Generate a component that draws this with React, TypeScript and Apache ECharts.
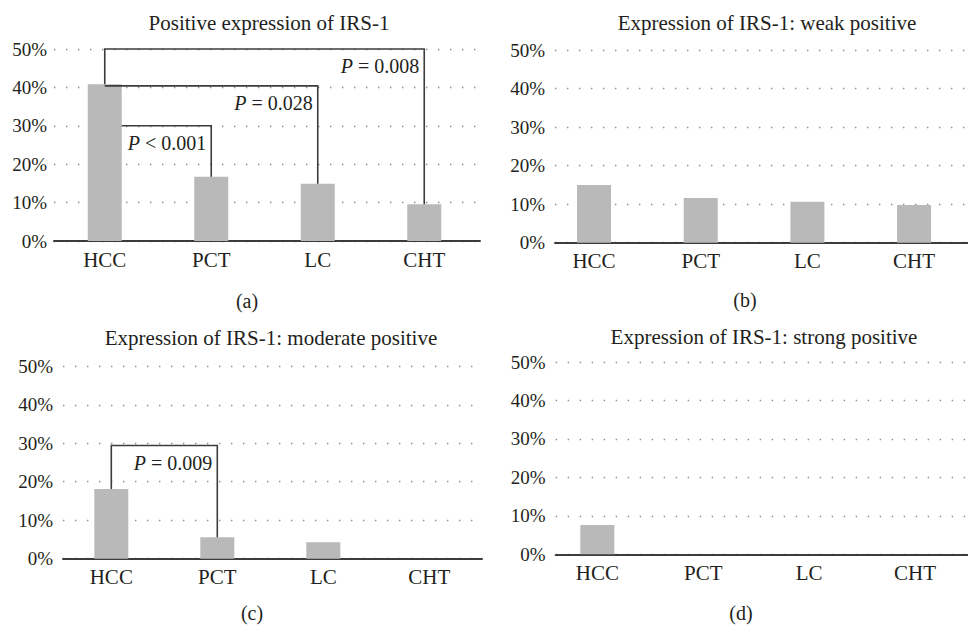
import React, { useEffect, useRef } from "react";
import * as echarts from "echarts";

// ---------- data ----------
const categories = ["HCC", "PCT", "LC", "CHT"];
const valuesA = [40.8, 16.7, 14.9, 9.6];
const valuesB = [15.0, 11.6, 10.6, 9.8];
const valuesC = [18.1, 5.6, 4.3, 0];
const valuesD = [7.6, 0, 0, 0];
const titles = [
  "Positive expression of IRS-1",
  "Expression of IRS-1: weak positive",
  "Expression of IRS-1: moderate positive",
  "Expression of IRS-1: strong positive",
];
const panelTags = ["(a)", "(b)", "(c)", "(d)"];
const yMin = 0;
const yMax = 50;
const yInterval = 10;

// significance brackets (category index from -> to, bracket level in %, label)
const bracketFromA = [0, 0, 0];
const bracketToA = [1, 2, 3];
const bracketLevelA = [30, 40.4, 50];
const bracketLabelA = ["P < 0.001", "P = 0.028", "P = 0.008"];
const bracketFromC = [0];
const bracketToC = [1];
const bracketLevelC = [29.4];
const bracketLabelC = ["P = 0.009"];

// ---------- layout / style ----------
const FONT = "Liberation Serif";
const TEXT = "#231f20";
const BAR = "#b9b9b9";
const AXIS = "#3c3c3c";
const BAR_W = 34;
const FS_TICK = 19;
const FS_CAT = 21;
const FS_TITLE = 21;
const FS_TAG = 20;
const FS_P = 20;

const layout = [
  { frame: { left: 54, width: 426 }, bars: { left: 51.5, width: 426 }, top: 49, height: 192, labelMargin: 7, title: [269, 23], tag: [247, 301] },
  { frame: { left: 555, width: 413 }, bars: { left: 540.7, width: 426.7 }, top: 50, height: 192.7, labelMargin: 10, title: [767, 23], tag: [745, 300] },
  { frame: { left: 63, width: 419 }, bars: { left: 58.3, width: 424 }, top: 366.3, height: 192.4, labelMargin: 10, title: [271, 338], tag: [252, 613] },
  { frame: { left: 555.7, width: 412.3 }, bars: { left: 544.4, width: 425.2 }, top: 362, height: 192.3, labelMargin: 10, title: [764, 337], tag: [741, 613] },
];

function bracketSeries(values: number[], from: number[], to: number[], level: number[], labels: string[], axisIdx: number) {
  return {
    type: "custom",
    xAxisIndex: axisIdx,
    yAxisIndex: axisIdx,
    clip: false,
    silent: true,
    z: 5,
    encode: { x: 0, y: 2 },
    data: from.map((f, k) => [f, to[k], level[k], k]),
    renderItem: (params: any, api: any) => {
      const f = api.value(0);
      const t = api.value(1);
      const lv = api.value(2);
      const k = api.value(3);
      const fromVal = values[f];
      const toVal = values[t];
      const pLevel = api.coord([f, lv]);
      const pFromTop = api.coord([f, fromVal]);
      const pTo = api.coord([t, lv]);
      const pToTop = api.coord([t, toVal]);
      let points: number[][];
      if (lv < fromVal - 1) {
        points = [[pLevel[0] + BAR_W / 2, pLevel[1]], [pTo[0], pTo[1]], [pTo[0], pToTop[1]]];
      } else if (lv > fromVal + 1) {
        points = [[pFromTop[0], pFromTop[1]], [pLevel[0], pLevel[1]], [pTo[0], pTo[1]], [pTo[0], pToTop[1]]];
      } else {
        points = [[pLevel[0], pLevel[1]], [pTo[0], pTo[1]], [pTo[0], pToTop[1]]];
      }
      const raw = String(labels[k]);
      const txt = "{i|P}" + raw.slice(1);
      return {
        type: "group",
        children: [
          { type: "polyline", shape: { points }, style: { stroke: AXIS, lineWidth: 1.6, fill: null } },
          {
            type: "text",
            x: pTo[0] - 5,
            y: pLevel[1] + 17,
            style: {
              text: txt,
              textAlign: "right",
              align: "right",
              textVerticalAlign: "middle",
              verticalAlign: "middle",
              fontFamily: FONT,
              fontSize: FS_P,
              fill: TEXT,
              rich: { i: { fontStyle: "italic", fontFamily: FONT, fontSize: FS_P, fill: TEXT } },
            },
          },
        ],
      };
    },
  };
}

function buildOption() {
  const panels = [valuesA, valuesB, valuesC, valuesD];
  const grid: any[] = [];
  const xAxis: any[] = [];
  const yAxis: any[] = [];
  const series: any[] = [];
  const graphic: any[] = [];

  panels.forEach((vals, i) => {
    const L = layout[i];
    const fIdx = i * 2;
    const bIdx = i * 2 + 1;
    grid.push({ left: L.frame.left, width: L.frame.width, top: L.top, height: L.height, containLabel: false });
    grid.push({ left: L.bars.left, width: L.bars.width, top: L.top, height: L.height, containLabel: false });

    xAxis.push({
      type: "category",
      gridIndex: fIdx,
      data: categories,
      axisLine: { show: true, lineStyle: { color: AXIS, width: 2 } },
      axisTick: { show: false },
      axisLabel: { show: false },
      splitLine: { show: false },
    });
    yAxis.push({
      type: "value",
      gridIndex: fIdx,
      min: yMin,
      max: yMax,
      interval: yInterval,
      axisLine: { show: false },
      axisTick: { show: false },
      axisLabel: { formatter: "{value}%", color: TEXT, fontFamily: FONT, fontSize: FS_TICK, margin: L.labelMargin },
      splitLine: { show: true, lineStyle: { color: "#8c8c8c", width: 1.4, type: [1.4, 10.6] } },
    });

    xAxis.push({
      type: "category",
      gridIndex: bIdx,
      data: categories,
      axisLine: { show: false },
      axisTick: { show: false },
      axisLabel: { color: TEXT, fontFamily: FONT, fontSize: FS_CAT, margin: 8 },
      splitLine: { show: false },
    });
    yAxis.push({
      type: "value",
      gridIndex: bIdx,
      min: yMin,
      max: yMax,
      interval: yInterval,
      show: false,
      splitLine: { show: false },
    });

    series.push({
      type: "bar",
      xAxisIndex: bIdx,
      yAxisIndex: bIdx,
      data: vals,
      barWidth: BAR_W,
      itemStyle: { color: BAR },
      z: 3,
    });

    graphic.push({
      type: "text",
      x: L.title[0],
      y: L.title[1],
      style: { text: titles[i], textAlign: "center", align: "center", textVerticalAlign: "middle", verticalAlign: "middle", fontFamily: FONT, fontSize: FS_TITLE, fill: TEXT },
    });
    graphic.push({
      type: "text",
      x: L.tag[0],
      y: L.tag[1],
      style: { text: panelTags[i], textAlign: "center", align: "center", textVerticalAlign: "middle", verticalAlign: "middle", fontFamily: FONT, fontSize: FS_TAG, fill: TEXT },
    });
  });

  series.push(bracketSeries(valuesA, bracketFromA, bracketToA, bracketLevelA, bracketLabelA, 1));
  series.push(bracketSeries(valuesC, bracketFromC, bracketToC, bracketLevelC, bracketLabelC, 5));

  return {
    animation: false,
    backgroundColor: "#ffffff",
    textStyle: { fontFamily: FONT },
    grid,
    xAxis,
    yAxis,
    series,
    graphic,
  };
}

export default function App() {
  const ref = useRef<HTMLDivElement>(null);
  useEffect(() => {
    document.body.style.margin = "0";
    const chart = echarts.init(ref.current!, null, { renderer: "svg" });
    chart.setOption(buildOption() as any);
    return () => chart.dispose();
  }, []);
  return <div ref={ref} style={{ width: 968, height: 626 }} />;
}
